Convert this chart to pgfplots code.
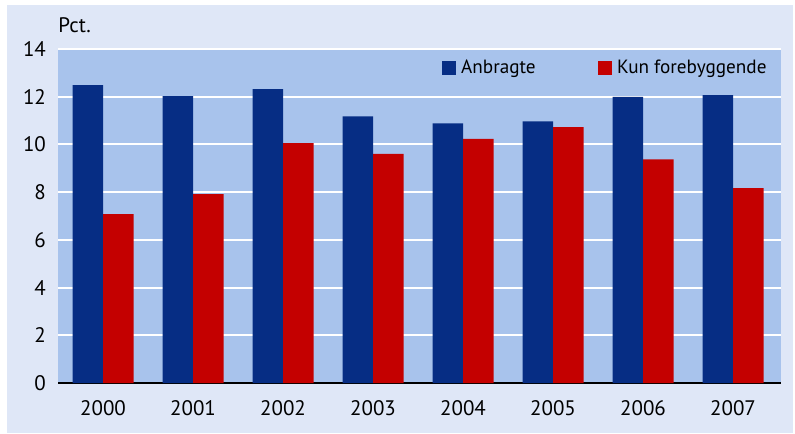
\documentclass[border=0pt]{standalone}
\usepackage{fontspec}
\setmainfont{PT Sans}
\usepackage{pgfplots}
\pgfplotsset{compat=1.18}

\definecolor{outerbg}{HTML}{DFE7F7}
\definecolor{plotbg}{HTML}{A8C3EC}
\definecolor{barblue}{HTML}{062D84}
\definecolor{barred}{HTML}{C40000}

\pgfplotstableread{
x  anbragte  kun
0  12.49  7.08
1  12.02  7.92
2  12.32  10.05
3  11.18  9.60
4  10.88  10.23
5  10.97  10.73
6  11.99  9.37
7  12.07  8.17
}\datatable

\begin{document}
\begin{tikzpicture}
\fill[white] (0,0) rectangle (397.5pt,216.5pt);
\fill[outerbg] (3.5pt,0) rectangle (396.5pt,214pt);
\begin{axis}[
    at={(29pt,25pt)}, anchor=south west,
    scale only axis,
    width=361.5pt, height=167pt,
    clip=false,
    font=\fontsize{10.5}{12}\selectfont,
    /pgf/number format/assume math mode=true,
    axis background/.style={fill=plotbg},
    ybar=0pt, bar width=15.25pt,
    xmin=-0.5, xmax=7.533,
    ymin=0, ymax=14,
    ytick={0,2,...,14},
    xtick=data,
    xticklabels={2000,2001,2002,2003,2004,2005,2006,2007},
    major tick length=0pt,
    ymajorgrids, grid style={white, line width=1pt},
    axis x line*=bottom, axis y line*=left,
    y axis line style={draw=none},
    x axis line style={black, line width=1pt},
    yticklabel style={xshift=-2.5pt},
    xticklabel style={yshift=-5pt},
    legend columns=2,
    legend style={at={(rel axis cs:0.9806,0.943)}, anchor=east, fill=none, draw=none,
        inner sep=0pt, font=\fontsize{9.6}{11}\selectfont,
        nodes={inner sep=0pt},
        /tikz/every odd column/.append style={column sep=2.5pt},
        /tikz/every even column/.append style={column sep=31pt}},
    legend image code/.code={\fill[#1] (0pt,-3.6pt) rectangle (7.2pt,3.6pt);},
]
\addplot[fill=barblue, draw=none] table[x=x, y=anbragte] {\datatable};
\addlegendentry{Anbragte}
\addplot[fill=barred, draw=none] table[x=x, y=kun] {\datatable};
\addlegendentry{Kun forebyggende}
\node[anchor=west, inner sep=0pt] at ([yshift=12pt]rel axis cs:0,1) {Pct.};
\end{axis}
\end{tikzpicture}
\end{document}
